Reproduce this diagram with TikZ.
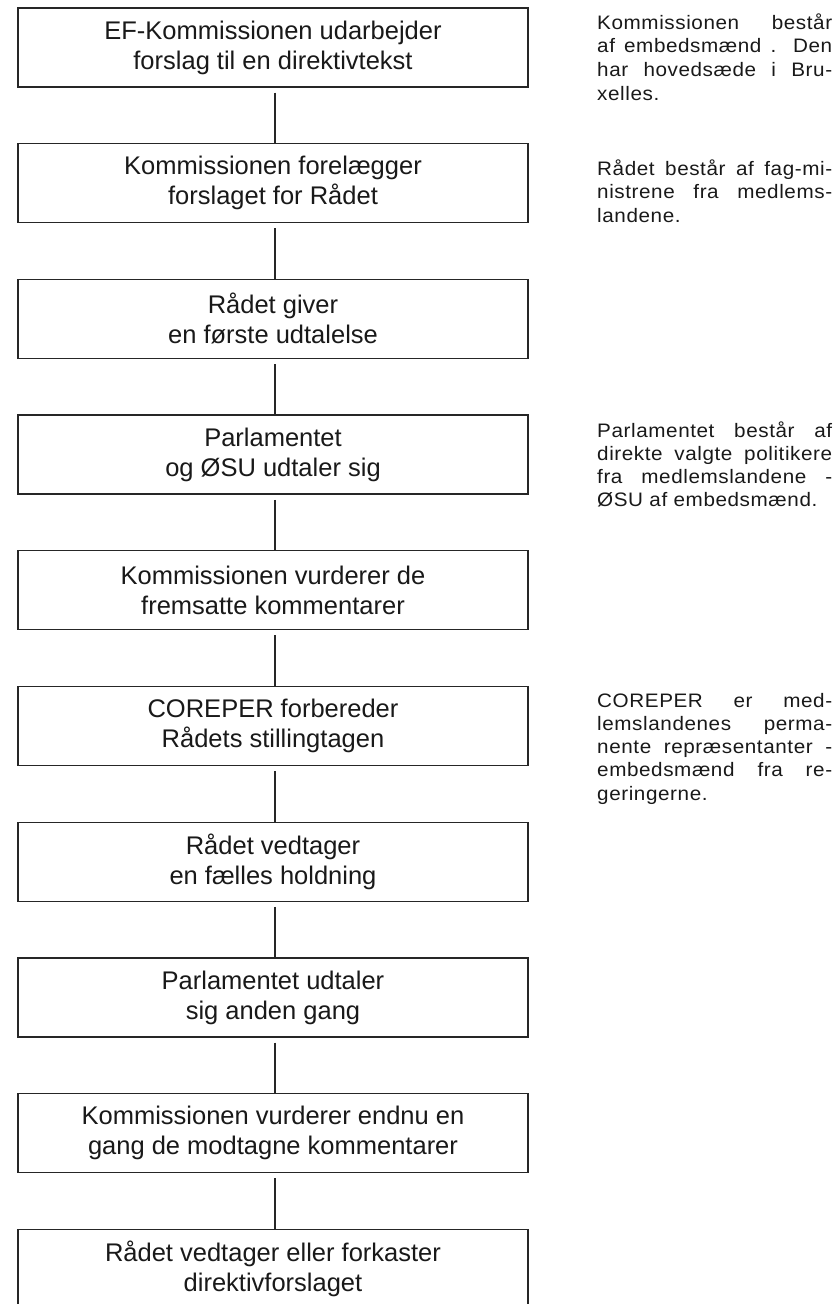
\documentclass[tikz,border=0pt]{standalone}
\usepackage{fontspec}
\setmainfont{Liberation Sans}
\newfontfamily\boxfont{Liberation Sans}
\newfontfamily\sidefont[FakeStretch=1.06,LetterSpace=3.0]{Liberation Sans}
\newcommand{\jl}[1]{\hbox to 235pt{#1}}
\tikzset{
  stepbox/.style={draw=black!85, line width=1.3pt, minimum width=510pt, minimum height=79pt,
    inner sep=0pt, align=center, text=black!90,
    font=\boxfont\fontsize{25.5}{30}\selectfont},
  link/.style={draw=black!85, line width=1.1pt},
  sideline/.style={anchor=base west, inner sep=0pt, text=black!90,
    font=\sidefont\fontsize{19.5}{23.3}\selectfont}
}
\begin{document}
\begin{tikzpicture}[x=1pt,y=-1pt]
\useasboundingbox (0,0) rectangle (838,1304);
\fill[white] (0,0) rectangle (838,1304);
\node[stepbox] (b1)  at (273, 47.5) {EF-Kommissionen udarbejder\\forslag til en direktivtekst};
\node[stepbox] (b2)  at (273, 47.5+1*135.7) {Kommissionen forelægger\\forslaget for Rådet};
\node[stepbox] (b3)  at (273, 47.5+2*135.7) {Rådet giver\\en første udtalelse};
\node[stepbox] (b4)  at (273, 47.5+3*135.7) {Parlamentet\\og ØSU udtaler sig};
\node[stepbox] (b5)  at (273, 47.5+4*135.7) {Kommissionen vurderer de\\fremsatte kommentarer};
\node[stepbox] (b6)  at (273, 47.5+5*135.7) {COREPER forbereder\\Rådets stillingtagen};
\node[stepbox] (b7)  at (273, 47.5+6*135.7) {Rådet vedtager\\en fælles holdning};
\node[stepbox] (b8)  at (273, 47.5+7*135.7) {Parlamentet udtaler\\sig anden gang};
\node[stepbox] (b9)  at (273, 47.5+8*135.7) {Kommissionen vurderer endnu en\\gang de modtagne kommentarer};
\node[stepbox] (b10) at (273, 47.5+9*135.7) {Rådet vedtager eller forkaster\\direktivforslaget};
\foreach \a/\b in {b1/b2,b2/b3,b3/b4,b4/b5,b5/b6,b6/b7,b7/b8,b8/b9,b9/b10}{
  \draw[link] ([xshift=2pt,yshift=-5pt]\a.south) -- ([xshift=2pt]\b.north);
}
% side notes
\node[sideline] (s1a) at (597,29)    {\jl{Kommissionen består}};
\node[sideline] (s1b) at (597,52.8)  {\jl{af embedsmænd . Den}};
\node[sideline] (s1c) at (597,76.6)  {\jl{har hovedsæde i Bru-}};
\node[sideline] (s1d) at (597,100.4) {xelles.};
\node[sideline] (s2a) at (597,175)   {\jl{Rådet består af fag-mi-}};
\node[sideline] (s2b) at (597,198.8) {\jl{nistrene fra medlems-}};
\node[sideline] (s2c) at (597,222.6) {landene.};
\node[sideline] (s3a) at (597,437)   {\jl{Parlamentet består af}};
\node[sideline] (s3b) at (597,460.3) {\jl{direkte valgte politikere}};
\node[sideline] (s3c) at (597,483.6) {\jl{fra medlemslandene -}};
\node[sideline] (s3d) at (597,506.9) {ØSU af embedsmænd.};
\node[sideline] (s4a) at (597,707)   {\jl{COREPER er med-}};
\node[sideline] (s4b) at (597,730.3) {\jl{lemslandenes perma-}};
\node[sideline] (s4c) at (597,753.6) {\jl{nente repræsentanter -}};
\node[sideline] (s4d) at (597,776.9) {\jl{embedsmænd fra re-}};
\node[sideline] (s4e) at (597,800.2) {geringerne.};
\end{tikzpicture}
\end{document}
